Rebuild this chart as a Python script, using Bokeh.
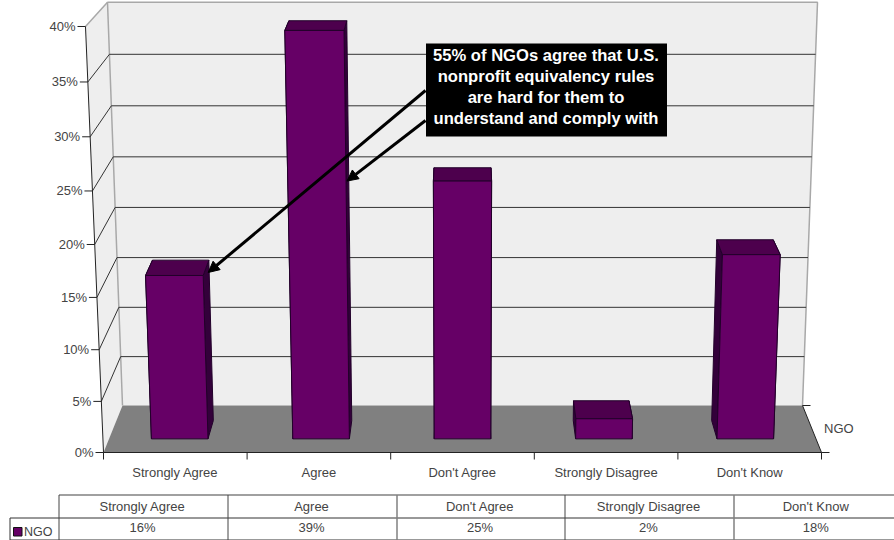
from bokeh.core.properties import value
from bokeh.embed import file_html
from bokeh.models import Arrow, NormalHead, Range1d
from bokeh.plotting import figure
from bokeh.resources import INLINE

categories = ["Strongly Agree", "Agree", "Don't Agree", "Strongly Disagree", "Don't Know"]
ngo_values = [16, 39, 25, 2, 18]
percent_labels = ["16%", "39%", "25%", "2%", "18%"]
y_ticks = [0, 5, 10, 15, 20, 25, 30, 35, 40]
series_name = "NGO"
callout_lines = [
    "55% of NGOs agree that U.S.",
    "nonprofit equivalency rules",
    "are hard for them to",
    "understand and comply with",
]

FONT = value("Liberation Sans")
TEXT = "#444444"
WALL = "#eeeeee"
FLOOR = "#808080"
EDGE = "#a8a8a8"
GRID = "#333333"
FRONT = "#660066"
TOP = "#4d004d"
SIDE = "#33003a"
OUTLINE = "#22002a"
BAR_NEAR, BAR_FAR = 0.29, 0.68
GAP = 0.30


def plane_y(v, y0, a, c):
    return (a * v + y0) / (1 + c * v)


def project(cat, v, depth):
    """Map category position, percent and depth (0 front, 1 back) to pixels."""
    yf = plane_y(v, 452, -10.68, -0.001147)
    yb = plane_y(v, 405, -10.08, -0.000854)
    tf = (452 - yf) / 426
    tb = (405 - yb) / 403
    left = (103 - 18 * tf) * (1 - depth) + (122 - 15 * tb) * depth
    right = (821 + 18 * tf) * (1 - depth) + (802 + 15 * tb) * depth
    return left + (right - left) * cat / 5, yf * (1 - depth) + yb * depth


def poly(points):
    pts = [project(*pt) for pt in points]
    return [x for x, _ in pts], [y for _, y in pts]


p = figure(width=894, height=540, x_range=Range1d(0, 894), y_range=Range1d(540, 0),
           output_backend="svg", toolbar_location=None, min_border=0,
           background_fill_color="white", border_fill_color="white", outline_line_color=None)
p.axis.visible = False
p.grid.visible = False

# Walls and floor of the box
wall_x, wall_y = poly([(0, 0, 1), (5, 0, 1), (5, 40, 1), (0, 40, 1)])
p.patch(wall_x, wall_y, fill_color=WALL, line_color=None)
side_x, side_y = poly([(0, 0, 0), (0, 40, 0), (0, 40, 1), (0, 0, 1)])
p.patch(side_x, side_y, fill_color=WALL, line_color=None)
floor_x, floor_y = poly([(0, 0, 0), (0, 0, 1), (5, 0, 1), (5, 0, 0)])
p.patch(floor_x, floor_y, fill_color=FLOOR, line_color=None)

# Pale outer edges of the walls
for pts in ([(0, 0, 1), (0, 40, 1), (5, 40, 1), (5, 0, 1)], [(0, 40, 0), (0, 40, 1)]):
    ex, ey = poly(pts)
    p.line(ex, ey, line_color=EDGE, line_width=1.5)

# Gridlines across the back wall and down the side wall
for tick in y_ticks[1:-1]:
    gx, gy = poly([(0, tick, 0), (0, tick, 1), (5, tick, 1)])
    p.line(gx, gy, line_color=GRID, line_width=1)

# Bars: hidden sides first, then the top and the front
for i, val in enumerate(ngo_values):
    a, b = i + GAP, i + 1 - GAP
    left_x, left_y = poly([(a, 0, BAR_NEAR), (a, val, BAR_NEAR), (a, val, BAR_FAR), (a, 0, BAR_FAR)])
    right_x, right_y = poly([(b, 0, BAR_NEAR), (b, val, BAR_NEAR), (b, val, BAR_FAR), (b, 0, BAR_FAR)])
    p.patch(left_x, left_y, fill_color=SIDE, line_color=OUTLINE)
    p.patch(right_x, right_y, fill_color=SIDE, line_color=OUTLINE)
    top_x, top_y = poly([(a, val, BAR_NEAR), (b, val, BAR_NEAR), (b, val, BAR_FAR), (a, val, BAR_FAR)])
    p.patch(top_x, top_y, fill_color=TOP, line_color=OUTLINE)
    front_x, front_y = poly([(a, 0, BAR_NEAR), (b, 0, BAR_NEAR), (b, val, BAR_NEAR), (a, val, BAR_NEAR)])
    p.patch(front_x, front_y, fill_color=FRONT, line_color=OUTLINE)

# Value axis with its ticks and labels
ax, ay = poly([(0, 40, 0), (0, 0, 0), (5, 0, 0), (5, 0, 1)])
p.line(ax, ay, line_color="#222222", line_width=1)
for tick in y_ticks:
    x, y = project(0, tick, 0)
    p.segment([x - 8], [y], [x], [y], line_color="#222222", line_width=1)
    p.text([x - 10], [y], text=[f"{tick}%"], text_font=FONT, text_font_size="13px",
           text_color=TEXT, text_align="right", text_baseline="middle")

# Category ticks and labels along the floor
for i in range(6):
    x, y = project(i, 0, 0)
    p.segment([x], [y], [x], [y + 7], line_color="#222222", line_width=1)
for i, name in enumerate(categories):
    x, y = project(i + 0.5, 0, 0)
    p.text([x], [y + 19.5], text=[name], text_font=FONT, text_font_size="13px",
           text_color=TEXT, text_align="center", text_baseline="middle")

# Series axis at the right of the floor
for depth in (0, 1):
    x, y = project(5, 0, depth)
    p.segment([x], [y], [x + 8], [y], line_color="#222222", line_width=1)
nx, ny = project(5, 0, 0.5)
p.text([nx + 12], [ny - 0.5], text=[series_name], text_font=FONT, text_font_size="13px",
       text_color=TEXT, text_align="left", text_baseline="middle")

# Callout pointing at the two agreeing bars
tip_a = project(0 + 1 - GAP, ngo_values[0], BAR_NEAR)
tip_b = project(1 + 1 - GAP, 25, BAR_NEAR)
for start, tip in (((425, 90), (tip_a[0] + 5, tip_a[1] - 3)), ((425, 120), (tip_b[0] + 1, tip_b[1]))):
    p.add_layout(Arrow(x_start=start[0], y_start=start[1], x_end=tip[0], y_end=tip[1],
                       line_color="black", line_width=3,
                       end=NormalHead(size=11, fill_color="black", line_color="black")))
p.quad(left=[425.5], right=[666.5], top=[43], bottom=[136], fill_color="black", line_color=None)
for k, line in enumerate(callout_lines):
    p.text([545.5], [54.5 + k * 21.3], text=[line], text_font=FONT, text_font_size="16.6px",
           text_font_style="bold", text_color="white", text_align="center", text_baseline="middle")

# Data table under the chart
col_edges = [58.5, 227.5, 396.5, 564.5, 733.5, 899]
p.segment([58.5], [494.5], [894], [494.5], line_color="#808080", line_width=1.5)
p.segment([9.5], [517.5], [894], [517.5], line_color="#333333", line_width=1)
p.segment([9.5], [539.5], [894], [539.5], line_color="#333333", line_width=1)
p.segment([9.5], [517.5], [9.5], [539.5], line_color="#333333", line_width=1)
for j, edge in enumerate(col_edges[:-1]):
    heavy = j in (2, 4)
    p.segment([edge], [494.5], [edge], [539.5], line_color="#808080" if heavy else "#444444",
              line_width=1.5 if heavy else 1)
for i, (name, label) in enumerate(zip(categories, percent_labels)):
    cx = (col_edges[i] + col_edges[i + 1]) / 2 - 1
    p.text([cx], [505.5], text=[name], text_font=FONT, text_font_size="13px",
           text_color=TEXT, text_align="center", text_baseline="middle")
    p.text([cx], [526.5], text=[label], text_font=FONT, text_font_size="13px",
           text_color=TEXT, text_align="center", text_baseline="middle")
p.quad(left=[13], right=[21.5], top=[527], bottom=[535.5], fill_color=FRONT, line_color="#111111")
p.text([23.5], [531], text=[series_name], text_font=FONT, text_font_size="12.5px",
       text_color=TEXT, text_align="left", text_baseline="middle")

open("out.html", "w").write(file_html(p, INLINE))
